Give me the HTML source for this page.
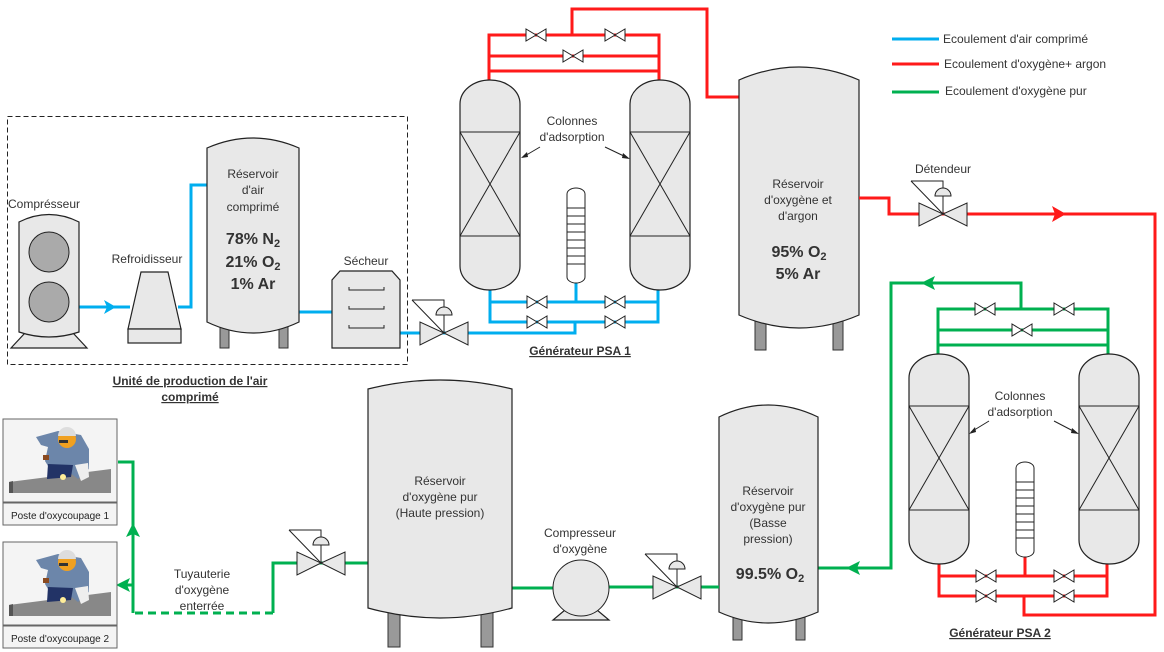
<!DOCTYPE html>
<html><head><meta charset="utf-8"><style>
html,body{margin:0;padding:0;background:#fff;}
svg{display:block;font-family:"Liberation Sans",sans-serif;}
.t{font-size:12px;fill:#333;text-anchor:middle;}
.b{font-size:16px;font-weight:bold;fill:#333;text-anchor:middle;}
.eq{fill:#e8e8e8;stroke:#222;stroke-width:1.2;}
.leg{fill:#999;stroke:#333;stroke-width:1;}
.bl{stroke:#00aeef;stroke-width:3;fill:none;}
.rd{stroke:#ff1a1a;stroke-width:3;fill:none;}
.gr{stroke:#00b050;stroke-width:3;fill:none;}
.v{fill:#fff;stroke:#222;stroke-width:1;}
.cv{fill:#e8e8e8;stroke:#222;stroke-width:1;}
.ln{stroke:#222;stroke-width:1;fill:none;}
</style></head><body>
<svg width="1164" height="652" viewBox="0 0 1164 652" xmlns="http://www.w3.org/2000/svg">
<defs>
<g id="sv"><polygon class="v" points="-10,-6 -10,6 0,0"/><polygon class="v" points="10,-6 10,6 0,0"/></g>
<g id="cvv"><polygon class="cv" points="-24,-11 -24,12 0,0"/><polygon class="cv" points="24,-11 24,12 0,0"/>
<path class="ln" d="M-32,-33 L0,0 M-32,-33 L0,-33 L0,0"/><path d="M-8,-18 A8,8 0 0 1 8,-18 Z" fill="#e8e8e8" stroke="#222"/></g>
<g id="col"><rect class="eq" x="0" y="0" width="60" height="210" rx="30" ry="24"/>
<line class="ln" x1="0" y1="52" x2="60" y2="52"/><line class="ln" x1="0" y1="156" x2="60" y2="156"/>
<path class="ln" d="M0,52 L60,156 M60,52 L0,156"/></g>
<g id="tube"><rect x="0" y="0" width="18" height="95" rx="9" ry="6" fill="#fff" stroke="#222"/>
<path class="ln" d="M0,20 H18 M0,28 H18 M0,36 H18 M0,44 H18 M0,52 H18 M0,60 H18 M0,68 H18 M0,76 H18"/></g>
<g id="weld">
<rect x="0" y="0" width="114" height="83" fill="#f4f4f4" stroke="#666"/>
<rect x="0" y="84" width="114" height="22" fill="#f4f4f4" stroke="#666"/>
<polygon points="6,63 108,50 108,74 6,74" fill="#888"/>
<polygon points="6,63 10,62 10,74 6,74" fill="#555"/>
<path d="M33,18 L55,12 L78,16 L86,30 L86,50 L75,60 L62,50 L48,52 L42,42 L45,28 L38,26 Z" fill="#6c86aa"/>
<path d="M45,45 L70,46 L68,58 L44,60 Z" fill="#223366"/>
<circle cx="64" cy="20" r="9" fill="#f0a020"/><path d="M55,17 A9,9 0 0 1 73,17 Z" fill="#ddd"/>
<rect x="56" y="21" width="9" height="3" fill="#333"/>
<path d="M72,46 L85,44 L86,58 L78,62 Z" fill="#eee"/>
<rect x="40" y="36" width="6" height="5" fill="#8a4a20"/>
<circle cx="60" cy="58" r="3" fill="#ffee99"/>
</g>
</defs>

<line x1="892" y1="39" x2="939" y2="39" stroke="#00aeef" stroke-width="3"/>
<line x1="892" y1="64" x2="939" y2="64" stroke="#ff1a1a" stroke-width="3"/>
<line x1="892" y1="92" x2="939" y2="92" stroke="#00b050" stroke-width="3"/>
<text x="943" y="43" font-size="12" fill="#333">Ecoulement d'air comprimé</text>
<text x="944" y="68" font-size="12" fill="#333">Ecoulement d'oxygène+ argon</text>
<text x="945" y="95" font-size="12" fill="#333">Ecoulement d'oxygène pur</text>

<rect x="7.5" y="116.5" width="400" height="248" fill="none" stroke="#222" stroke-dasharray="5,3"/>
<text class="t" x="190" y="385" font-weight="bold" text-decoration="underline">Unité de production de l'air</text>
<text class="t" x="190" y="401" font-weight="bold" text-decoration="underline">comprimé</text>

<path class="bl" d="M79,307 H130"/>
<polygon points="104,300 116,307 104,314 107,307" fill="#00aeef"/>
<path class="bl" d="M178,307 H191 V185 H207"/>
<path class="bl" d="M299,312 H332"/>
<path class="bl" d="M400,333 H575 V322"/>
<path class="bl" d="M490,290 V322 H658 V290 M490,302 H658 M576,283 V302"/>

<path class="eq" d="M11,348 L25,333 H73 L87,348 Z"/>
<path class="eq" d="M19,222 Q49,207 79,222 V332 Q49,342 19,332 Z"/>
<circle cx="49" cy="252" r="20" fill="#aaa" stroke="#222"/>
<circle cx="49" cy="302" r="20" fill="#aaa" stroke="#222"/>
<text x="8" y="208" font-size="12" fill="#333">Comprésseur</text>
<polygon class="eq" points="141,272 168,272 181,329 128,329"/>
<rect class="eq" x="128" y="329" width="53" height="14"/>
<text class="t" x="147" y="263">Refroidisseur</text>
<rect class="leg" x="220" y="324" width="9" height="24"/><rect class="leg" x="279" y="324" width="9" height="24"/>
<path class="eq" d="M207,148 Q253,128 299,148 V322 Q253,344 207,322 Z"/>
<text class="t" x="253" y="178">Réservoir</text>
<text class="t" x="253" y="194">d'air</text>
<text class="t" x="253" y="211">comprimé</text>
<text class="b" x="253" y="244">78% N<tspan font-size="11" dy="3">2</tspan></text>
<text class="b" x="253" y="267">21% O<tspan font-size="11" dy="3">2</tspan></text>
<text class="b" x="253" y="289">1% Ar</text>
<path class="eq" d="M340,271 H392 L400,280 V348 H332 V280 Z"/>
<path class="ln" d="M349,287 V290 H384 V287 M349,306 V309 H384 V306 M349,325 V328 H384 V325"/>
<text class="t" x="366" y="265">Sécheur</text>
<use href="#cvv" x="444" y="333"/>

<path class="rd" d="M489,80 V35 H659 V80 M489,56 H659 M489,71 H659 M572,35 V9 H707 V97 H740"/>
<use href="#col" x="460" y="80"/><use href="#col" x="630" y="80"/>
<use href="#tube" x="567" y="188"/>
<use href="#sv" x="536" y="35"/><use href="#sv" x="615" y="35"/><use href="#sv" x="573" y="56"/>
<use href="#sv" x="537" y="302"/><use href="#sv" x="615" y="302"/><use href="#sv" x="537" y="322"/><use href="#sv" x="615" y="322"/>
<text class="t" x="572" y="125">Colonnes</text>
<text class="t" x="572" y="141">d'adsorption</text>
<path class="ln" d="M540,147 L523,157 M605,147 L628,158"/>
<polygon points="521,158 527,152 528,157" fill="#222"/><polygon points="630,159 623,153 622,158" fill="#222"/>
<text class="t" x="580" y="355" font-weight="bold" text-decoration="underline">Générateur PSA 1</text>

<rect class="leg" x="755" y="320" width="11" height="30"/><rect class="leg" x="833" y="320" width="10" height="30"/>
<path class="eq" d="M739,80 Q799,54 859,80 V315 Q799,341 739,315 Z"/>
<text class="t" x="798" y="188">Réservoir</text>
<text class="t" x="798" y="204">d'oxygène et</text>
<text class="t" x="798" y="220">d'argon</text>
<text class="b" x="799" y="257">95% O<tspan font-size="11" dy="3">2</tspan></text>
<text class="b" x="798" y="279">5% Ar</text>

<path class="rd" d="M859,198 H889 V214 H1155 V615 H1024 V596"/>
<polygon points="1052,206 1066,214 1052,222 1055,214" fill="#ff1a1a"/>
<use href="#cvv" x="943" y="214"/>
<text class="t" x="943" y="173">Détendeur</text>

<path class="gr" d="M938,354 V309 H1108 V354 M938,330 H1108 M938,345 H1108 M1021,309 V283 H891 V568 H818"/>
<polygon points="935,276 921,283 935,290 932,283" fill="#00b050"/>
<polygon points="860,561 846,568 860,575 857,568" fill="#00b050"/>
<path class="rd" d="M939,564 V596 H1107 V564 M939,576 H1107 M1025,556 V576"/>
<use href="#col" x="909" y="354"/><use href="#col" x="1079" y="354"/>
<use href="#tube" x="1016" y="462"/>
<use href="#sv" x="985" y="309"/><use href="#sv" x="1064" y="309"/><use href="#sv" x="1022" y="330"/>
<use href="#sv" x="986" y="576"/><use href="#sv" x="1064" y="576"/><use href="#sv" x="986" y="596"/><use href="#sv" x="1064" y="596"/>
<text class="t" x="1020" y="400">Colonnes</text>
<text class="t" x="1020" y="416">d'adsorption</text>
<path class="ln" d="M989,421 L971,432 M1054,421 L1077,433"/>
<polygon points="969,434 975,427 976,432" fill="#222"/><polygon points="1079,434 1072,428 1071,433" fill="#222"/>
<text class="t" x="1000" y="637" font-weight="bold" text-decoration="underline">Générateur PSA 2</text>

<rect class="leg" x="733" y="612" width="9" height="28"/><rect class="leg" x="796" y="612" width="9" height="28"/>
<path class="eq" d="M719,417 Q768,393 818,417 V612 Q768,634 719,612 Z"/>
<text class="t" x="768" y="495">Réservoir</text>
<text class="t" x="768" y="511">d'oxygène pur</text>
<text class="t" x="768" y="527">(Basse</text>
<text class="t" x="768" y="543">pression)</text>
<text class="b" x="770" y="579">99.5% O<tspan font-size="11" dy="3">2</tspan></text>

<path class="gr" d="M719,587 H553 M512,588 H553 M368,563 H273 V613"/>
<use href="#cvv" x="677" y="587"/>
<polygon class="eq" points="565,610 597,610 609,620 553,620"/>
<circle cx="581" cy="588" r="28" fill="#e8e8e8" stroke="#222"/>
<text class="t" x="580" y="537">Compresseur</text>
<text class="t" x="580" y="553">d'oxygène</text>

<rect class="leg" x="388" y="610" width="12" height="37"/><rect class="leg" x="481" y="610" width="12" height="37"/>
<path class="eq" d="M368,389 Q440,371 512,389 V608 Q440,628 368,608 Z"/>
<text class="t" x="440" y="485">Réservoir</text>
<text class="t" x="440" y="501">d'oxygène pur</text>
<text class="t" x="440" y="517">(Haute pression)</text>
<use href="#cvv" x="321" y="563"/>

<path class="gr" d="M273,613 H133" stroke-dasharray="8,5"/>
<path class="gr" d="M133,613 V462 H118 M133,585 H122"/>
<polygon points="126,537 133,523 140,537 133,534" fill="#00b050"/>
<polygon points="130,578 116,585 130,592 127,585" fill="#00b050"/>
<text class="t" x="202" y="578" font-size="13">Tuyauterie</text>
<text class="t" x="202" y="594" font-size="13">d'oxygène</text>
<text class="t" x="202" y="610" font-size="13">enterrée</text>

<use href="#weld" x="3" y="419"/>
<use href="#weld" x="3" y="542"/>
<text x="60" y="519" font-size="10" fill="#222" text-anchor="middle">Poste d'oxycoupage 1</text>
<text x="60" y="642" font-size="10" fill="#222" text-anchor="middle">Poste d'oxycoupage 2</text>
</svg>
</body></html>
